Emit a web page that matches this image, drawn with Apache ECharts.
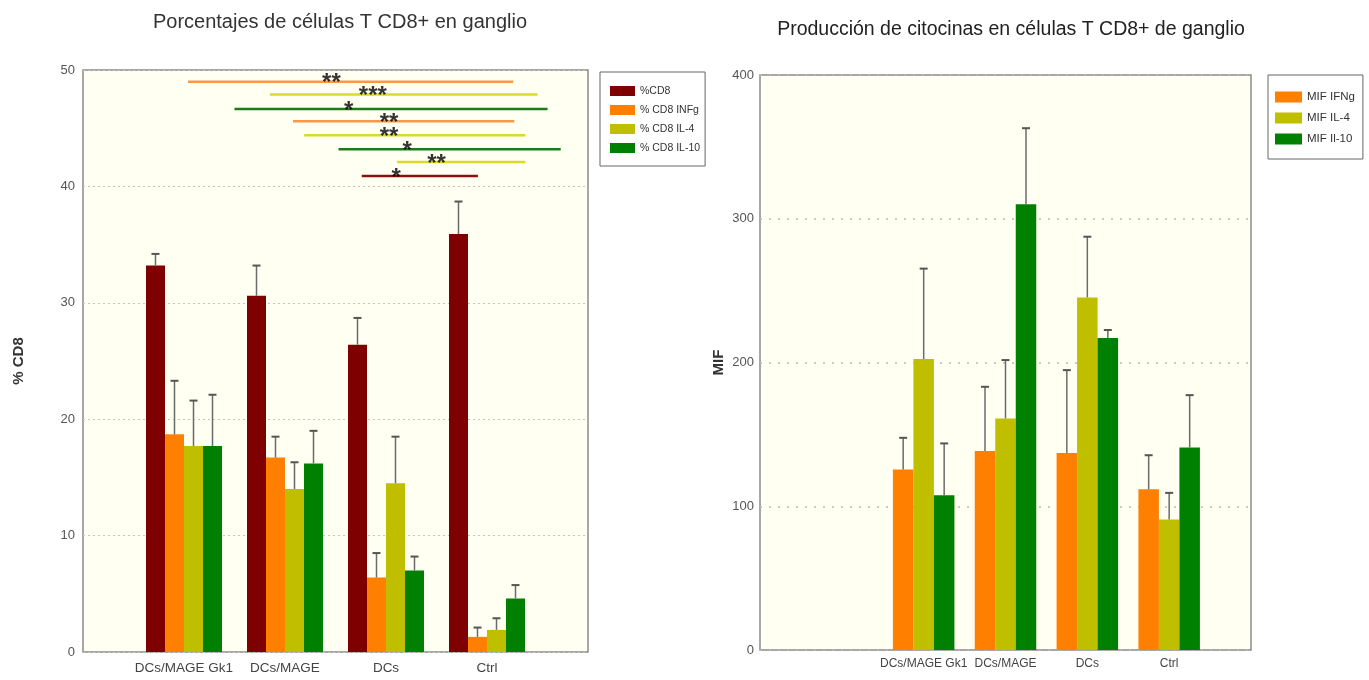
<!DOCTYPE html>
<html>
<head>
<meta charset="utf-8">
<script src="https://cdn.jsdelivr.net/npm/echarts@6/dist/echarts.min.js"></script>
<style>
  html, body { margin: 0; padding: 0; background: #ffffff; }
  #chart { width: 1369px; height: 680px; }
</style>
</head>
<body>
<div id="chart"></div>
<script>
// Experimental groups shared by both panels
const groups = ['DCs/MAGE Gk1', 'DCs/MAGE', 'DCs', 'Ctrl'];

// Left panel: percentage of CD8+ T cells in lymph node (mean, upper SD)
const pctCD8 = [33.2, 30.6, 26.4, 35.9];
const pctCD8Sd = [1.0, 2.6, 2.3, 2.8];
const pctINFg = [18.7, 16.7, 6.4, 1.3];
const pctINFgSd = [4.6, 1.8, 2.1, 0.8];
const pctIL4 = [17.7, 14.0, 14.5, 1.9];
const pctIL4Sd = [3.9, 2.3, 4.0, 1.0];
const pctIL10 = [17.7, 16.2, 7.0, 4.6];
const pctIL10Sd = [4.4, 2.8, 1.2, 1.15];

// Right panel: cytokine MIF in CD8+ T cells (mean, upper SD)
const mifIFNg = [125.5, 138.5, 137.1, 111.8];
const mifIFNgSd = [22.1, 44.6, 57.6, 23.7];
const mifIL4 = [202.4, 161.1, 245.3, 90.7];
const mifIL4Sd = [62.9, 40.6, 42.2, 18.6];
const mifIL10 = [107.7, 310.1, 217.0, 140.9];
const mifIL10Sd = [36.0, 52.9, 5.6, 36.4];

// Significance brackets on the left panel (x in group units, group i sits at i + 1)
const sigFrom = [1.04, 1.85, 1.50, 2.08, 2.19, 2.53, 3.11, 2.76];
const sigTo = [4.26, 4.50, 4.60, 4.27, 4.38, 4.73, 4.38, 3.91];
const sigLevel = [49.0, 47.9, 46.65, 45.6, 44.4, 43.2, 42.1, 40.9];
const sigKind = [1, 2, 3, 1, 2, 3, 2, 0];
const sigStarX = [2.46, 2.87, 2.63, 3.03, 3.03, 3.21, 3.50, 3.10];
const sigStars = ['**', '***', '*', '**', '**', '*', '**', '*'];

const leftNames = ['%CD8', '% CD8 INFg', '% CD8 IL-4', '% CD8 IL-10'];
const rightNames = ['MIF IFNg', 'MIF IL-4', 'MIF Il-10'];

const leftColors = ['#7f0000', '#ff8000', '#bfbf00', '#008000'];
const rightColors = ['#ff8000', '#bfbf00', '#008000'];
const sigColors = ['#8b1010', '#fb9848', '#dada2a', '#1c7c1c'];

const FONT = "'Liberation Sans', Arial, sans-serif";
const LEFT_BAR = 19;
const RIGHT_BAR = 20.5;

// Padded category axes: empty slots keep the groups where they belong on the frame
const leftCats = [''].concat(groups, ['']);
const rightCats = ['', ''].concat(groups, ['']);
const leftOffset = 1;
const rightOffset = 2;

function padded(vals, offset, total) {
  const out = new Array(total).fill(null);
  vals.forEach((v, i) => { out[i + offset] = v; });
  return out;
}

function errorData(vals, sds, k, offset) {
  return vals.map((v, i) => [i + offset, v, sds[i], k]);
}

function errorRenderer(barW, nSeries) {
  return function (params, api) {
    const cat = api.value(0);
    const v = api.value(1);
    const sd = api.value(2);
    const k = api.value(3);
    const base = api.coord([cat, v]);
    const top = api.coord([cat, v + sd]);
    const x = base[0] + (k - (nSeries - 1) / 2) * barW;
    const cap = 4;
    return {
      type: 'group',
      children: [
        { type: 'line', shape: { x1: x, y1: base[1], x2: x, y2: top[1] },
          style: { stroke: '#6b6b6b', lineWidth: 1.5 } },
        { type: 'line', shape: { x1: x - cap, y1: top[1], x2: x + cap, y2: top[1] },
          style: { stroke: '#555555', lineWidth: 2 } }
      ]
    };
  };
}

const leftVals = [pctCD8, pctINFg, pctIL4, pctIL10];
const leftSds = [pctCD8Sd, pctINFgSd, pctIL4Sd, pctIL10Sd];
const rightVals = [mifIFNg, mifIL4, mifIL10];
const rightSds = [mifIFNgSd, mifIL4Sd, mifIL10Sd];

const series = [];

leftNames.forEach((name, k) => {
  series.push({
    name: name, type: 'bar', xAxisIndex: 0, yAxisIndex: 0,
    barWidth: LEFT_BAR, barGap: '0%',
    itemStyle: { color: leftColors[k] },
    data: padded(leftVals[k], leftOffset, leftCats.length)
  });
});
rightNames.forEach((name, k) => {
  series.push({
    name: name, type: 'bar', xAxisIndex: 2, yAxisIndex: 1,
    barWidth: RIGHT_BAR, barGap: '0%',
    itemStyle: { color: rightColors[k] },
    data: padded(rightVals[k], rightOffset, rightCats.length)
  });
});

// Upper error bars
let leftErr = [];
leftVals.forEach((vals, k) => { leftErr = leftErr.concat(errorData(vals, leftSds[k], k, leftOffset)); });
series.push({
  type: 'custom', xAxisIndex: 0, yAxisIndex: 0, silent: true, z: 5,
  renderItem: errorRenderer(LEFT_BAR, leftNames.length),
  data: leftErr
});
let rightErr = [];
rightVals.forEach((vals, k) => { rightErr = rightErr.concat(errorData(vals, rightSds[k], k, rightOffset)); });
series.push({
  type: 'custom', xAxisIndex: 2, yAxisIndex: 1, silent: true, z: 5,
  renderItem: errorRenderer(RIGHT_BAR, rightNames.length),
  data: rightErr
});

// Significance lines with their asterisks
sigFrom.forEach((from, i) => {
  series.push({
    type: 'line', xAxisIndex: 1, yAxisIndex: 0, silent: true, z: 6,
    symbol: 'none',
    lineStyle: { color: sigColors[sigKind[i]], width: 2.5 },
    data: [[from, sigLevel[i]], [sigTo[i], sigLevel[i]]]
  });
});
series.push({
  type: 'scatter', xAxisIndex: 1, yAxisIndex: 0, silent: true, z: 7,
  symbol: 'circle', symbolSize: 1,
  itemStyle: { color: 'rgba(0,0,0,0)' },
  label: {
    show: true, position: 'inside', offset: [0, 2],
    formatter: p => p.value[2],
    color: '#000', fontSize: 24, fontWeight: 'bold', fontFamily: FONT
  },
  data: sigStarX.map((x, i) => [x, sigLevel[i], sigStars[i]])
});

const option = {
  backgroundColor: '#ffffff',
  animation: false,
  title: [
    { text: 'Porcentajes de células T CD8+ en ganglio', left: 340, top: 12, textAlign: 'center', padding: 0,
      textStyle: { fontFamily: FONT, fontSize: 20, fontWeight: 'normal', color: '#333' } },
    { text: 'Producción de citocinas en células T CD8+ de ganglio', left: 1011, top: 20, textAlign: 'center', padding: 0,
      textStyle: { fontFamily: FONT, fontSize: 19.5, fontWeight: 'normal', color: '#222' } }
  ],
  legend: [
    { data: leftNames, orient: 'vertical', left: 600, top: 72,
      icon: 'rect', itemWidth: 25, itemHeight: 10, itemGap: 7,
      padding: [13, 5, 12, 10], borderColor: '#666', borderWidth: 1, backgroundColor: '#fff',
      textStyle: { fontFamily: FONT, fontSize: 10.5, color: '#333', lineHeight: 12 } },
    { data: rightNames, orient: 'vertical', left: 1268, top: 75,
      icon: 'rect', itemWidth: 27, itemHeight: 11, itemGap: 9,
      padding: [16, 8, 14, 7], borderColor: '#666', borderWidth: 1, backgroundColor: '#fff',
      textStyle: { fontFamily: FONT, fontSize: 11.5, color: '#333', lineHeight: 12 } }
  ],
  grid: [
    { left: 83, top: 70, width: 505, height: 582, show: true,
      backgroundColor: '#fffff2', borderColor: '#8a8a8a', borderWidth: 1.5 },
    { left: 760, top: 75, width: 491, height: 575, show: true,
      backgroundColor: '#fffff2', borderColor: '#8a8a8a', borderWidth: 1.5 }
  ],
  xAxis: [
    { type: 'category', gridIndex: 0, data: leftCats, boundaryGap: false,
      axisLine: { show: false }, axisTick: { show: false },
      axisLabel: { interval: 0, margin: 9, fontFamily: FONT, fontSize: 13.5, color: '#444' },
      splitLine: { show: false } },
    { type: 'value', gridIndex: 0, min: 0, max: 5, show: false },
    { type: 'category', gridIndex: 1, data: rightCats, boundaryGap: false,
      axisLine: { show: false }, axisTick: { show: false },
      axisLabel: { interval: 0, margin: 8, fontFamily: FONT, fontSize: 12, color: '#444' },
      splitLine: { show: false } }
  ],
  yAxis: [
    { type: 'value', gridIndex: 0, min: 0, max: 50, interval: 10,
      name: '% CD8', nameLocation: 'middle', nameGap: 57, nameRotate: 90,
      nameTextStyle: { fontFamily: FONT, fontSize: 15, fontWeight: 'bold', color: '#333' },
      axisLine: { show: false }, axisTick: { show: false },
      axisLabel: { margin: 8, fontFamily: FONT, fontSize: 13, color: '#555' },
      splitLine: { show: true, lineStyle: { type: [2, 3], color: '#c4c4c4', width: 1 } } },
    { type: 'value', gridIndex: 1, min: 0, max: 400, interval: 100,
      name: 'MIF', nameLocation: 'middle', nameGap: 34, nameRotate: 90,
      nameTextStyle: { fontFamily: FONT, fontSize: 15, fontWeight: 'bold', color: '#333' },
      axisLine: { show: false }, axisTick: { show: false },
      axisLabel: { margin: 6, fontFamily: FONT, fontSize: 13, color: '#555' },
      splitLine: { show: true, lineStyle: { type: [2, 7], color: '#b8b8b8', width: 1.5 } } }
  ],
  series: series
};

const chart = echarts.init(document.getElementById('chart'), null, { renderer: 'canvas' });
chart.setOption(option);
</script>
</body>
</html>
